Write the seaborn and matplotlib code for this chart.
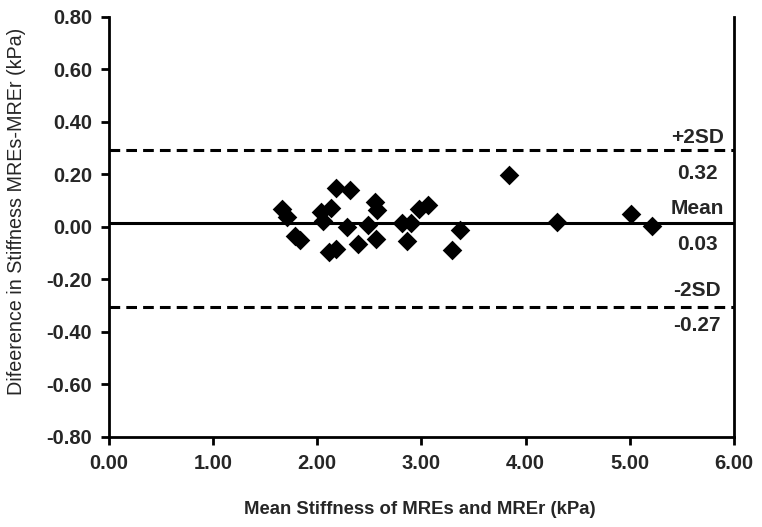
import numpy as np
import pandas as pd
import matplotlib
matplotlib.use("Agg")
import matplotlib.pyplot as plt
import seaborn as sns

# ==================================================
# Data (Bland-Altman style)
# ==================================================
mean_stiffness = [1.66, 1.71, 1.79, 1.83, 2.04, 2.06, 2.13, 2.11, 2.18, 2.18,
                  2.31, 2.29, 2.39, 2.49, 2.55, 2.57, 2.56, 2.81, 2.86, 2.90,
                  2.98, 3.06, 3.29, 3.37, 3.84, 4.30, 5.01, 5.21]
diff_stiffness = [0.067, 0.038, -0.034, -0.050, 0.058, 0.023, 0.070, -0.095, -0.085, 0.147,
                  0.141, -0.002, -0.066, 0.008, 0.095, 0.065, -0.045, 0.013, -0.053, 0.013,
                  0.067, 0.083, -0.089, -0.013, 0.197, 0.020, 0.048, 0.003]

line_levels = [0.292, 0.014, -0.307]          # +2SD, mean, -2SD as drawn
line_names = ["+2SD", "Mean", "-2SD"]
line_values = ["0.32", "0.03", "-0.27"]

x_ticks = [0, 1, 2, 3, 4, 5, 6]
y_ticks = [-0.8, -0.6, -0.4, -0.2, 0.0, 0.2, 0.4, 0.6, 0.8]

df = pd.DataFrame({"mean": mean_stiffness, "diff": diff_stiffness})

# ==================================================
# Style
# ==================================================
sns.set_style("white")
plt.rcParams["font.family"] = ["Liberation Sans", "DejaVu Sans"]

fig = plt.figure(figsize=(7.62, 5.27), dpi=100)
ax = fig.add_axes([0.143, 0.171, 0.820, 0.797])

# ==================================================
# Reference lines
# ==================================================
ax.axhline(line_levels[0], color="black", lw=2.2, ls=(0, (3.5, 2)))
ax.axhline(line_levels[1], color="black", lw=2.2)
ax.axhline(line_levels[2], color="black", lw=2.2, ls=(0, (3.5, 2)))

# ==================================================
# Points
# ==================================================
sns.scatterplot(data=df, x="mean", y="diff", marker="D", color="black",
                s=100, edgecolor="black", linewidth=0, ax=ax, zorder=3)

# labels on the right
lab_x = 5.65
offsets_name = [0.05, 0.057, 0.065]
offsets_val = [-0.088, -0.08, -0.069]
for lvl, name, val, on, ov in zip(line_levels, line_names, line_values, offsets_name, offsets_val):
    ax.text(lab_x, lvl + on, name, ha="center", va="center",
            fontsize=15, fontweight="bold")
    ax.text(lab_x, lvl + ov, val, ha="center", va="center",
            fontsize=15, fontweight="bold")

# ==================================================
# Axes
# ==================================================
ax.set_xlim(0, 6)
ax.set_ylim(-0.8, 0.8)
ax.set_xticks(x_ticks)
ax.set_yticks(y_ticks)
ax.set_xticklabels([f"{v:.2f}" for v in x_ticks], fontsize=14.5, fontweight="bold")
ax.set_yticklabels([f"{v:.2f}" for v in y_ticks], fontsize=14.5, fontweight="bold")
ax.tick_params(axis="both", direction="out", length=6, width=2, color="black",
               bottom=True, left=True, pad=6)

ax.set_xlabel("Mean Stiffness of MREs and MREr (kPa)", fontsize=13.3,
              fontweight="bold")
ax.xaxis.set_label_coords(0.497, -0.152)
ax.set_ylabel("Difeerence in Stiffness MREs-MREr (kPa)", fontsize=14.2)
ax.yaxis.set_label_coords(-0.133, 0.536)

for side in ["left", "bottom", "right"]:
    ax.spines[side].set_color("black")
    ax.spines[side].set_linewidth(2)
ax.spines["top"].set_visible(False)

fig.savefig("out.png", dpi=100)
plt.close(fig)
